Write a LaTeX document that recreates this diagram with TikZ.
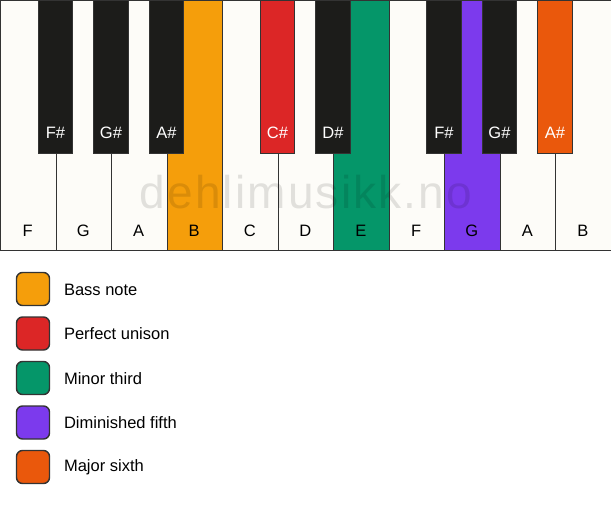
\documentclass[tikz,border=0pt]{standalone}
\usepackage{fontspec}
\setmainfont{Liberation Sans}
\usepackage{tikz}
\usetikzlibrary{positioning}

\definecolor{ivory}{HTML}{FDFCF8}
\definecolor{ebony}{HTML}{1C1C1A}
\definecolor{keyline}{HTML}{333333}
\definecolor{bassnote}{HTML}{F59E0B}
\definecolor{unison}{HTML}{DC2626}
\definecolor{minthird}{HTML}{059669}
\definecolor{dimfifth}{HTML}{7C3AED}
\definecolor{majsixth}{HTML}{EA580C}

\begin{document}
\begin{tikzpicture}[x=1pt, y=-1pt, font=\fontsize{16.5}{19}\selectfont,
whitekey/.style ={draw=keyline, line width=1.4pt, minimum width=55.5pt, minimum height=250pt, inner sep=0pt, anchor=north west},
blackkey/.style ={draw=keyline, line width=1.4pt, minimum width=34.5pt, minimum height=153pt, inner sep=0pt, anchor=north},
swatch/.style ={draw=keyline, line width=1.4pt, rounded corners=6pt, minimum size=33pt, inner sep=0pt}]
\useasboundingbox (0,0) rectangle (611,506);

% white keys
\foreach \n/\c [count=\i from 0] in {F/ivory, G/ivory, A/ivory, B/bassnote, C/ivory, D/ivory, E/minthird, F/ivory, G/dimfifth, A/ivory, B/ivory}
{
  \node[whitekey, fill=\c] (w\i) at (55.5*\i, 0) {};
  \node (wl\i) at (55.5*\i+27.75, 231) {\n};
}

% watermark
\node[text=black, opacity=0.11, anchor=base, font=\fontsize{46}{46}\selectfont\addfontfeature{LetterSpace=4.7}] (mark) at (306, 208) {dehlimusikk.no};

% black keys
\foreach \n/\c/\k in {F\#/ebony/1, G\#/ebony/2, A\#/ebony/3, C\#/unison/5, D\#/ebony/6, F\#/ebony/8, G\#/ebony/9, A\#/majsixth/10}
{
  \node[blackkey, fill=\c] (b\k) at (55.5*\k, 0) {};
  \node[text=white] (bl\k) at (55.5*\k, 133) {\n};
}

% legend
\foreach \t/\c [count=\i from 0] in {Bass note/bassnote, Perfect unison/unison, Minor third/minthird, Diminished fifth/dimfifth, Major sixth/majsixth}
{
  \node[swatch, fill=\c] (s\i) at (33, 289+44.5*\i) {};
  \node[anchor=west] (t\i) at (60.5, 289.5+44.5*\i) {\t};
}
\end{tikzpicture}
\end{document}
